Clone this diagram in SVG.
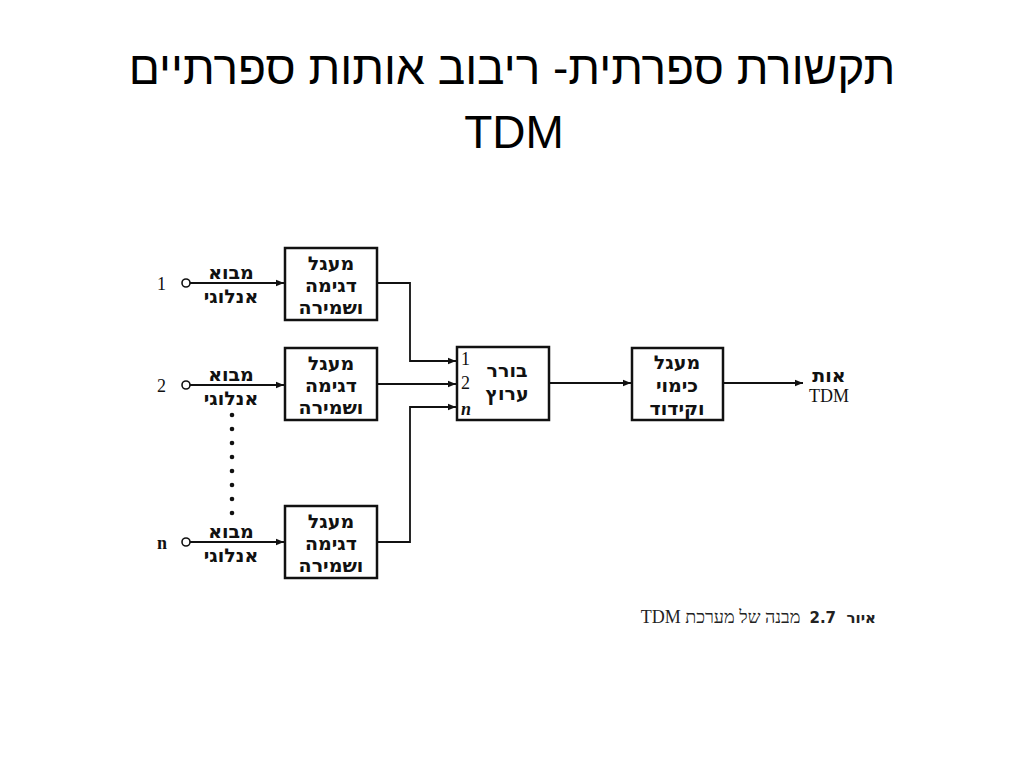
<svg xmlns="http://www.w3.org/2000/svg" width="1024" height="768" viewBox="0 0 1024 768">
<style>
.box{fill:#fff;stroke:#111;stroke-width:2.5}
.ln{fill:none;stroke:#111;stroke-width:1.8}
.he{font-family:"DejaVu Sans","Liberation Sans",sans-serif;font-weight:bold;font-size:19px;fill:#111;text-anchor:middle}
.num{font-family:"Liberation Serif",serif;font-size:18px;fill:#111}
.title{font-family:"Liberation Sans","DejaVu Sans",sans-serif;font-size:46px;fill:#000;text-anchor:middle}
</style>
<defs>
<marker id="ar" viewBox="0 0 10 10" refX="10" refY="5" markerWidth="10" markerHeight="8" markerUnits="userSpaceOnUse" orient="auto">
<path d="M0,1 L10,5 L0,9 Z" fill="#111"/>
</marker>
</defs>
<rect width="1024" height="768" fill="#fff"/>
<text class="title" x="512" y="84" direction="rtl">תקשורת ספרתית- ריבוב אותות ספרתיים</text>
<text class="title" x="514" y="148">TDM</text>

<g id="connectors">
<line class="ln" x1="190" y1="283" x2="284" y2="283" marker-end="url(#ar)"/>
<line class="ln" x1="190" y1="385" x2="284" y2="385" marker-end="url(#ar)"/>
<line class="ln" x1="190" y1="542" x2="284" y2="542" marker-end="url(#ar)"/>
<polyline class="ln" points="377,283 410,283 410,361 456,361" marker-end="url(#ar)"/>
<line class="ln" x1="377" y1="384" x2="456" y2="384" marker-end="url(#ar)"/>
<polyline class="ln" points="377,542 410,542 410,407 456,407" marker-end="url(#ar)"/>
<line class="ln" x1="549" y1="383" x2="631" y2="383" marker-end="url(#ar)"/>
<line class="ln" x1="723" y1="383" x2="803" y2="383" marker-end="url(#ar)"/>
</g>

<g id="input1">
<circle cx="186" cy="283" r="4" fill="#fff" stroke="#111" stroke-width="1.6"/>
<text class="num" x="157" y="290">1</text>
<text class="he" x="231" y="279">מבוא</text>
<text class="he" x="231" y="303">אנלוגי</text>
</g>
<g id="input2">
<circle cx="186" cy="385" r="4" fill="#fff" stroke="#111" stroke-width="1.6"/>
<text class="num" x="157" y="392">2</text>
<text class="he" x="231" y="381">מבוא</text>
<text class="he" x="231" y="405">אנלוגי</text>
</g>
<g id="dots" fill="#111">
<circle cx="232" cy="415" r="2.3"/><circle cx="232" cy="429" r="2.3"/><circle cx="232" cy="443" r="2.3"/><circle cx="232" cy="457" r="2.3"/>
<circle cx="232" cy="471" r="2.3"/><circle cx="232" cy="485" r="2.3"/><circle cx="232" cy="499" r="2.3"/><circle cx="232" cy="513" r="2.3"/>
</g>
<g id="inputn">
<circle cx="186" cy="542" r="4" fill="#fff" stroke="#111" stroke-width="1.6"/>
<text class="num" x="157" y="549" font-weight="bold" font-size="15">n</text>
<text class="he" x="231" y="538">מבוא</text>
<text class="he" x="231" y="562">אנלוגי</text>
</g>

<g id="sh1">
<rect class="box" x="285" y="248" width="92" height="72"/>
<text class="he" x="331" y="270">מעגל</text>
<text class="he" x="331" y="292">דגימה</text>
<text class="he" x="331" y="314">ושמירה</text>
</g>
<g id="sh2">
<rect class="box" x="285" y="348" width="92" height="72"/>
<text class="he" x="331" y="370">מעגל</text>
<text class="he" x="331" y="392">דגימה</text>
<text class="he" x="331" y="414">ושמירה</text>
</g>
<g id="shn">
<rect class="box" x="285" y="506" width="92" height="72"/>
<text class="he" x="331" y="528">מעגל</text>
<text class="he" x="331" y="550">דגימה</text>
<text class="he" x="331" y="572">ושמירה</text>
</g>

<g id="mux">
<rect class="box" x="457" y="347" width="92" height="73"/>
<text class="num" x="461" y="365">1</text>
<text class="num" x="461" y="389">2</text>
<text class="num" x="461" y="415" font-style="italic" font-weight="bold" font-size="14">n</text>
<text class="he" x="507" y="377">בורר</text>
<text class="he" x="507" y="400">ערוץ</text>
</g>

<g id="coder">
<rect class="box" x="632" y="348" width="91" height="72"/>
<text class="he" x="677" y="369">מעגל</text>
<text class="he" x="677" y="392">כימוי</text>
<text class="he" x="677" y="415">וקידוד</text>
</g>

<g id="output">
<text class="he" x="829" y="382">אות</text>
<text class="num" x="829" y="402" text-anchor="middle">TDM</text>
</g>

<text x="876" y="623" direction="rtl" font-family="Liberation Serif, serif" font-size="18" fill="#222" xml:space="preserve"><tspan font-weight="bold" font-family="DejaVu Sans, sans-serif" font-size="15">איור  2.7</tspan>  מבנה של מערכת TDM</text>
</svg>
